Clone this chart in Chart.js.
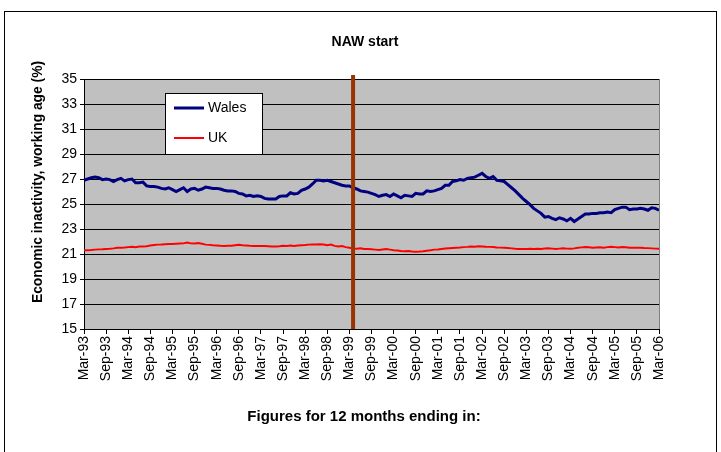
<!DOCTYPE html>
<html>
<head>
  <title>NAW start</title>
  <script src="https://cdn.jsdelivr.net/npm/chart.js"></script>
  <style>
    body {
      margin: 0;
      background: #fff;
    }
  </style>
</head>
<body>
  <canvas id="myChart" width="721" height="452"></canvas>
  <script>
    // monthly categories, Mar-93 .. Mar-06
    const monthNames = ['Jan', 'Feb', 'Mar', 'Apr', 'May', 'Jun', 'Jul', 'Aug', 'Sep', 'Oct', 'Nov', 'Dec'];
    const months = [];
    for (let i = 0; i <= 156; i++) {
      const m = (2 + i) % 12;
      const y = 93 + Math.floor((2 + i) / 12);
      months.push(monthNames[m] + '-' + String(y % 100).padStart(2, '0'));
    }

    const wales = [
      26.9, 27.0, 27.1, 27.15, 27.1, 26.95, 27.0, 26.95, 26.8, 26.95, 27.05, 26.85,
      26.95, 27.0, 26.7, 26.7, 26.75, 26.45, 26.4, 26.4, 26.35, 26.25, 26.2, 26.3,
      26.15, 26.0, 26.15, 26.3, 26.0, 26.2, 26.25, 26.1, 26.2, 26.35, 26.3, 26.25,
      26.25, 26.2, 26.1, 26.05, 26.05, 26.0, 25.85, 25.8, 25.65, 25.7, 25.6, 25.65,
      25.6, 25.45, 25.4, 25.4, 25.4, 25.6, 25.65, 25.65, 25.9, 25.8, 25.85, 26.1,
      26.2, 26.35, 26.6, 26.9, 26.9, 26.85, 26.9, 26.8, 26.7, 26.6, 26.5, 26.45,
      26.45, 26.3, 26.2, 26.05, 26.0, 25.95, 25.85, 25.75, 25.6, 25.7, 25.75, 25.6,
      25.8, 25.65, 25.5, 25.7, 25.65, 25.6, 25.85, 25.8, 25.8, 26.05, 26.0, 26.05,
      26.15, 26.25, 26.5, 26.5, 26.8, 26.85, 26.95, 26.9, 27.05, 27.1, 27.15, 27.3,
      27.45, 27.2, 27.05, 27.2, 26.9, 26.85, 26.8, 26.55, 26.3, 26.05, 25.75, 25.45,
      25.2, 24.95, 24.65, 24.45, 24.25, 23.95, 24.0, 23.85, 23.75, 23.9, 23.8, 23.65,
      23.85, 23.6, 23.8, 24.0, 24.2, 24.2, 24.25, 24.25, 24.3, 24.3, 24.35, 24.3,
      24.55, 24.65, 24.75, 24.75, 24.55, 24.6, 24.6, 24.65, 24.6, 24.5, 24.7, 24.65,
      24.5
    ];

    const uk = [
      21.3, 21.3, 21.32, 21.35, 21.37, 21.38, 21.4, 21.42, 21.45, 21.5, 21.5, 21.52,
      21.55, 21.57, 21.55, 21.6, 21.6, 21.62, 21.68, 21.72, 21.75, 21.76, 21.78, 21.8,
      21.8, 21.82, 21.84, 21.85, 21.92, 21.85, 21.84, 21.88, 21.82, 21.75, 21.73, 21.7,
      21.68, 21.66, 21.65, 21.66, 21.66, 21.7, 21.73, 21.7, 21.68, 21.66, 21.65, 21.65,
      21.65, 21.64, 21.62, 21.6, 21.6, 21.62, 21.66, 21.64, 21.68, 21.65, 21.68, 21.7,
      21.72, 21.75, 21.76, 21.76, 21.78, 21.76, 21.7, 21.75, 21.65, 21.6, 21.63, 21.55,
      21.5, 21.45, 21.43, 21.45, 21.4, 21.4, 21.38, 21.35, 21.32, 21.36, 21.4, 21.35,
      21.3, 21.28, 21.24, 21.22, 21.24, 21.2, 21.19, 21.2, 21.22, 21.26, 21.3, 21.35,
      21.36, 21.4, 21.44, 21.46, 21.48, 21.5, 21.52, 21.55, 21.57, 21.6, 21.58, 21.62,
      21.6, 21.58, 21.57, 21.56, 21.52, 21.51, 21.5, 21.48, 21.45, 21.42, 21.4, 21.4,
      21.4, 21.42, 21.4, 21.42, 21.4, 21.44, 21.45, 21.43, 21.4, 21.43, 21.45, 21.43,
      21.42, 21.45, 21.5, 21.53, 21.55, 21.54, 21.5, 21.52, 21.53, 21.5, 21.55, 21.58,
      21.55, 21.52, 21.55, 21.54, 21.5, 21.5, 21.5, 21.5, 21.48, 21.47, 21.45, 21.43,
      21.42
    ];

    const nawStart = 'Apr-99';
    const chartTitle = 'NAW start';
    const xTitle = 'Figures for 12 months ending in:';
    const yTitle = 'Economic inactivity, working age (%)';
    const fontFamily = 'Arial, "Liberation Sans", sans-serif';

    const frame = {
      id: 'frame',
      beforeDraw(chart) {
        const c = chart.ctx;
        const a = chart.chartArea;
        c.save();
        c.fillStyle = '#fff';
        c.fillRect(0, 0, chart.width, chart.height);
        c.strokeStyle = '#000';
        c.lineWidth = 1;
        c.strokeRect(4.5, 11.5, 712, 460);
        c.fillStyle = '#c0c0c0';
        c.fillRect(a.left, a.top, a.right - a.left, a.bottom - a.top);
        c.restore();
      },
      afterDatasetsDraw(chart) {
        const c = chart.ctx;
        const a = chart.chartArea;
        const x = chart.scales.x.getPixelForValue(months.indexOf(nawStart));
        c.save();
        // plot right border
        c.strokeStyle = '#808080';
        c.lineWidth = 1;
        c.beginPath();
        c.moveTo(Math.round(a.right) + 0.5, a.top);
        c.lineTo(Math.round(a.right) + 0.5, a.bottom);
        c.stroke();
        // NAW start marker
        c.strokeStyle = '#993300';
        c.lineWidth = 4;
        c.beginPath();
        c.moveTo(x, a.top - 4);
        c.lineTo(x, a.bottom);
        c.stroke();
        // legend
        c.fillStyle = '#fff';
        c.fillRect(165, 93, 97, 61);
        c.strokeStyle = '#000';
        c.lineWidth = 1;
        c.strokeRect(165.5, 93.5, 97, 61);
        c.font = '14px ' + fontFamily;
        c.textBaseline = 'middle';
        chart.data.datasets.forEach((ds, i) => {
          const y = 108 + i * 30;
          c.strokeStyle = ds.borderColor;
          c.lineWidth = ds.borderWidth;
          c.beginPath();
          c.moveTo(174, y);
          c.lineTo(204, y);
          c.stroke();
          c.fillStyle = '#000';
          c.fillText(ds.label, 208, y);
        });
        // titles
        c.fillStyle = '#000';
        c.textAlign = 'center';
        c.font = 'bold 14px ' + fontFamily;
        c.fillText(chartTitle, 365, 42);
        c.font = 'bold 15px ' + fontFamily;
        c.fillText(xTitle, 364, 417);
        c.translate(38, 182);
        c.rotate(-Math.PI / 2);
        c.font = 'bold 13.8px ' + fontFamily;
        c.fillText(yTitle, 0, 0);
        c.restore();
      }
    };

    new Chart(document.getElementById('myChart'), {
      type: 'line',
      data: {
        labels: months,
        datasets: [{
          label: 'Wales',
          data: wales,
          borderColor: '#000080',
          borderWidth: 3,
          pointRadius: 0,
          tension: 0
        },
        {
          label: 'UK',
          data: uk,
          borderColor: '#ff0000',
          borderWidth: 2,
          pointRadius: 0,
          tension: 0
        }]
      },
      plugins: [frame],
      options: {
        responsive: false,
        animation: false,
        layout: { padding: { left: 0, right: 62, top: 79, bottom: 0 } },
        plugins: {
          legend: { display: false },
          tooltip: { enabled: false },
          title: { display: false }
        },
        scales: {
          x: {
            offset: false,
            grid: { drawOnChartArea: false, color: '#000', tickLength: 5 },
            border: { color: '#000' },
            ticks: {
              autoSkip: false,
              minRotation: 90,
              maxRotation: 90,
              padding: 2,
              color: '#000',
              font: { family: fontFamily, size: 14 },
              callback: (v, i) => i % 6 === 0 ? months[i] : null
            },
            afterFit: s => { s.height = 123; }
          },
          y: {
            min: 15,
            max: 35,
            grid: { color: '#000', tickLength: 4 },
            border: { color: '#000' },
            ticks: {
              stepSize: 2,
              padding: 3,
              color: '#000',
              font: { family: fontFamily, size: 14 }
            },
            afterFit: s => { s.width = 84; }
          }
        }
      }
    });
  </script>
</body>
</html>
